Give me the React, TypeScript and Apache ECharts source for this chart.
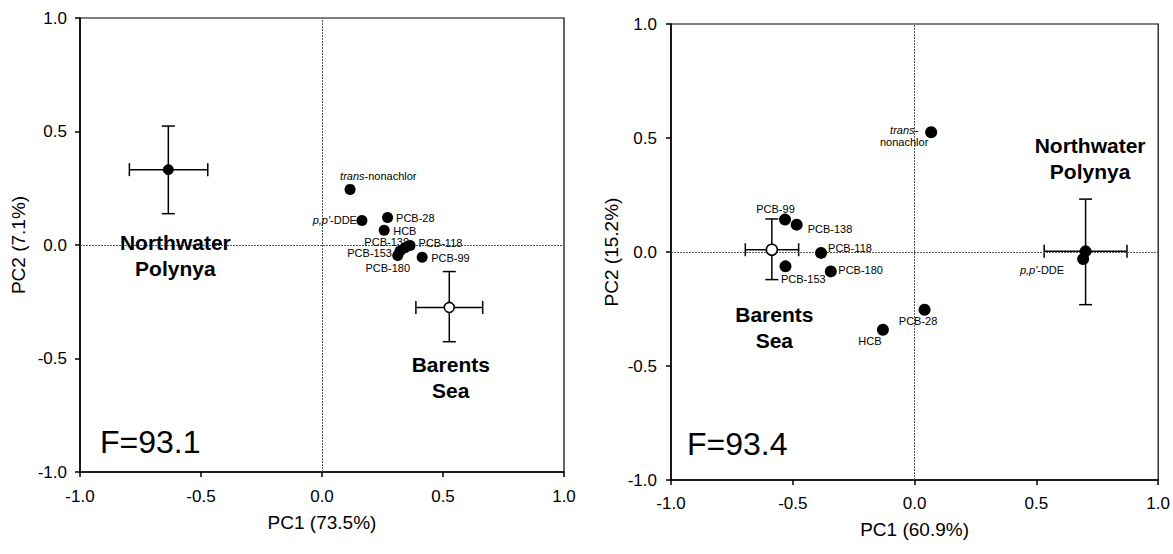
import React, { useEffect, useRef } from "react";
import * as echarts from "echarts";

// ---------- data ----------
const compounds = ["trans-nonachlor", "p,p'-DDE", "PCB-28", "HCB", "PCB-138", "PCB-118", "PCB-153", "PCB-180", "PCB-99"];

const leftPC1 = [0.116, 0.165, 0.271, 0.257, 0.343, 0.364, 0.322, 0.313, 0.414];
const leftPC2 = [0.245, 0.108, 0.121, 0.065, -0.012, -0.002, -0.027, -0.046, -0.054];

const rightPC1 = [0.068, 0.692, 0.041, -0.13, -0.484, -0.384, -0.53, -0.344, -0.532];
const rightPC2 = [0.525, -0.031, -0.253, -0.341, 0.12, -0.004, -0.063, -0.085, 0.142];

const groups = ["Northwater\nPolynya", "Barents\nSea"];
const leftGroupPC1 = [-0.635, 0.526];
const leftGroupPC2 = [0.332, -0.275];
const leftGroupPC1Range = [[-0.796, -0.472], [0.388, 0.664]];
const leftGroupPC2Range = [[0.138, 0.524], [-0.426, -0.117]];

const rightGroupPC1 = [0.702, -0.586];
const rightGroupPC2 = [0.003, 0.01];
const rightGroupPC1Range = [[0.532, 0.872], [-0.695, -0.476]];
const rightGroupPC2Range = [[-0.231, 0.232], [-0.121, 0.145]];

const axisTicks = [-1, -0.5, 0, 0.5, 1];
const leftTitles = { x: "PC1 (73.5%)", y: "PC2 (7.1%)", f: "F=93.1" };
const rightTitles = { x: "PC1 (60.9%)", y: "PC2 (15.2%)", f: "F=93.4" };

// ---------- label placement (pixels relative to point centre) ----------
type Place = { dx: number; dy: number; align: "left" | "right" | "center" };
const leftPlace: Record<string, Place> = {
  "trans-nonachlor": { dx: -10, dy: -13.5, align: "left" },
  "p,p'-DDE": { dx: -5, dy: 0, align: "right" },
  "PCB-28": { dx: 8.5, dy: 0, align: "left" },
  HCB: { dx: 9, dy: 0.5, align: "left" },
  "PCB-138": { dx: 4, dy: -6, align: "right" },
  "PCB-118": { dx: 8.5, dy: -2.5, align: "left" },
  "PCB-153": { dx: -8, dy: 2, align: "right" },
  "PCB-180": { dx: -10, dy: 12.5, align: "center" },
  "PCB-99": { dx: 9, dy: 1, align: "left" },
};
const rightPlace: Record<string, Place> = {
  "trans-nonachlor": { dx: -27, dy: 4, align: "center" },
  "p,p'-DDE": { dx: -19, dy: 10.5, align: "right" },
  "PCB-28": { dx: -6.5, dy: 11, align: "center" },
  HCB: { dx: -13, dy: 11, align: "center" },
  "PCB-138": { dx: 11, dy: 4.5, align: "left" },
  "PCB-118": { dx: 7, dy: -4.5, align: "left" },
  "PCB-153": { dx: -4.5, dy: 12.5, align: "left" },
  "PCB-180": { dx: 7.5, dy: -1, align: "left" },
  "PCB-99": { dx: -9.5, dy: -11, align: "center" },
};
const leftGroupPlace = [
  { dx: 7, dy: 86 },
  { dx: 1.5, dy: 70 },
];
const rightGroupPlace = [
  { dx: 4.5, dy: -93 },
  { dx: 2.5, dy: 78 },
];

const FONT = "'Liberation Sans', Arial, Helvetica, sans-serif";

function labelText(name: string, twoLine: boolean): string {
  if (name.startsWith("trans-")) {
    return twoLine ? "{i|trans-}\nnonachlor" : "{i|trans}-nonachlor";
  }
  if (name.startsWith("p,p'")) {
    return "{i|p,p'}-DDE";
  }
  return name;
}

function buildPanel(
  idx: number,
  pc1: number[],
  pc2: number[],
  place: Record<string, Place>,
  gx: number[],
  gy: number[],
  gxr: number[][],
  gyr: number[][],
  gplace: { dx: number; dy: number }[],
  symbolSize: number,
  twoLineTrans: boolean
) {
  const compoundData = compounds.map((name, i) => {
    const p = place[name];
    return {
      name,
      value: [pc1[i], pc2[i]],
      label: {
        offset: [p.dx, p.dy],
        align: p.align,
        formatter: labelText(name, twoLineTrans),
      },
    };
  });

  const errData = groups.map((g, i) => [gx[i], gy[i], gxr[i][0], gxr[i][1], gyr[i][0], gyr[i][1]]);

  const groupData = groups.map((g, i) => ({
    name: g,
    value: [gx[i], gy[i]],
    itemStyle:
      i === 0
        ? { color: "#000", borderColor: "#000", borderWidth: 1, opacity: 1 }
        : { color: "#fff", borderColor: "#000", borderWidth: 1.5, opacity: 1 },
    label: { offset: [gplace[i].dx, gplace[i].dy] },
  }));

  const cap = 6.5;
  return [
    {
      type: "scatter",
      xAxisIndex: idx,
      yAxisIndex: idx,
      symbol: "circle",
      symbolSize,
      itemStyle: { color: "#000", opacity: 1 },
      z: 5,
      label: {
        show: true,
        position: "inside",
        verticalAlign: "middle",
        color: "#000",
        fontFamily: FONT,
        fontSize: 11,
        lineHeight: 12,
        textBorderWidth: 0,
        textBorderColor: "transparent",
        rich: { i: { fontStyle: "italic", fontFamily: FONT, fontSize: 11, color: "#000", lineHeight: 12 } },
      },
      markLine: {
        silent: true,
        symbol: ["none", "none"],
        label: { show: false },
        lineStyle: { type: [2, 1], color: "#555", width: 1 },
        data: [{ xAxis: 0 }, { yAxis: 0 }],
      },
      data: compoundData,
    },
    {
      type: "custom",
      xAxisIndex: idx,
      yAxisIndex: idx,
      z: 3,
      renderItem: (params: any, api: any) => {
        const x = api.value(0);
        const y = api.value(1);
        const pL = api.coord([api.value(2), y]);
        const pR = api.coord([api.value(3), y]);
        const pB = api.coord([x, api.value(4)]);
        const pT = api.coord([x, api.value(5)]);
        const style = { stroke: "#000", lineWidth: 1.5 };
        return {
          type: "group",
          children: [
            { type: "line", shape: { x1: pL[0], y1: pL[1], x2: pR[0], y2: pR[1] }, style },
            { type: "line", shape: { x1: pL[0], y1: pL[1] - cap, x2: pL[0], y2: pL[1] + cap }, style },
            { type: "line", shape: { x1: pR[0], y1: pR[1] - cap, x2: pR[0], y2: pR[1] + cap }, style },
            { type: "line", shape: { x1: pB[0], y1: pB[1], x2: pT[0], y2: pT[1] }, style },
            { type: "line", shape: { x1: pB[0] - cap, y1: pB[1], x2: pB[0] + cap, y2: pB[1] }, style },
            { type: "line", shape: { x1: pT[0] - cap, y1: pT[1], x2: pT[0] + cap, y2: pT[1] }, style },
          ],
        };
      },
      encode: { x: [0, 2, 3], y: [1, 4, 5] },
      data: errData,
    },
    {
      type: "scatter",
      xAxisIndex: idx,
      yAxisIndex: idx,
      symbol: "circle",
      symbolSize: symbolSize - 1,
      z: 6,
      label: {
        show: true,
        position: "inside",
        align: "center",
        verticalAlign: "middle",
        formatter: "{b}",
        color: "#000",
        fontFamily: FONT,
        fontSize: 21,
        fontWeight: "bold",
        lineHeight: 26,
        textBorderWidth: 0,
        textBorderColor: "transparent",
      },
      data: groupData,
    },
  ];
}

function axisX(idx: number, name: string, gap: number, margin: number) {
  return {
    type: "value",
    gridIndex: idx,
    min: -1,
    max: 1,
    interval: 0.5,
    name,
    nameLocation: "middle",
    nameGap: gap,
    nameTextStyle: { fontFamily: FONT, fontSize: 19, color: "#000" },
    axisLine: { show: true, onZero: false, lineStyle: { color: "#000", width: 1.5 } },
    axisTick: { show: true, inside: false, length: 5, lineStyle: { color: "#000", width: 1.5 } },
    axisLabel: {
      fontFamily: FONT,
      fontSize: 17,
      color: "#000",
      margin,
      formatter: (v: number) => (axisTicks.includes(v) ? v.toFixed(1) : ""),
    },
    splitLine: { show: false },
  };
}

function axisY(idx: number, name: string, gap: number, margin: number) {
  return {
    type: "value",
    gridIndex: idx,
    min: -1,
    max: 1,
    interval: 0.5,
    name,
    nameLocation: "middle",
    nameGap: gap,
    nameTextStyle: { fontFamily: FONT, fontSize: 19, color: "#000" },
    axisLine: { show: true, onZero: false, lineStyle: { color: "#000", width: 1.5 } },
    axisTick: { show: true, inside: false, length: 5, lineStyle: { color: "#000", width: 1.5 } },
    axisLabel: {
      fontFamily: FONT,
      fontSize: 17,
      color: "#000",
      margin,
      formatter: (v: number) => (axisTicks.includes(v) ? v.toFixed(1) : ""),
    },
    splitLine: { show: false },
  };
}

export default function App() {
  const ref = useRef<HTMLDivElement>(null);

  useEffect(() => {
    document.body.style.margin = "0";
    if (!ref.current) return;
    const chart = echarts.init(ref.current, undefined, { renderer: "svg" });
    const option = {
      animation: false,
      backgroundColor: "#fff",
      grid: [
        { left: 80, top: 18, width: 484, height: 454, show: true, borderColor: "#000", borderWidth: 1.2, backgroundColor: "transparent" },
        { left: 671, top: 24, width: 489, height: 456, show: true, borderColor: "#000", borderWidth: 1.2, backgroundColor: "transparent" },
      ],
      xAxis: [axisX(0, leftTitles.x, 41, 16), axisX(1, rightTitles.x, 40, 15)],
      yAxis: [axisY(0, leftTitles.y, 52, 13), axisY(1, rightTitles.y, 50, 14)],
      series: [
        ...buildPanel(0, leftPC1, leftPC2, leftPlace, leftGroupPC1, leftGroupPC2, leftGroupPC1Range, leftGroupPC2Range, leftGroupPlace, 11, false),
        ...buildPanel(1, rightPC1, rightPC2, rightPlace, rightGroupPC1, rightGroupPC2, rightGroupPC1Range, rightGroupPC2Range, rightGroupPlace, 12, true),
      ],
      graphic: [
        { type: "text", left: 100, top: 426, style: { text: leftTitles.f, font: `32px ${FONT}`, fill: "#000" } },
        { type: "text", left: 687, top: 428, style: { text: rightTitles.f, font: `32px ${FONT}`, fill: "#000" } },
      ],
    };
    chart.setOption(option as any);
    return () => chart.dispose();
  }, []);

  return <div ref={ref} style={{ width: 1173, height: 554 }} />;
}
